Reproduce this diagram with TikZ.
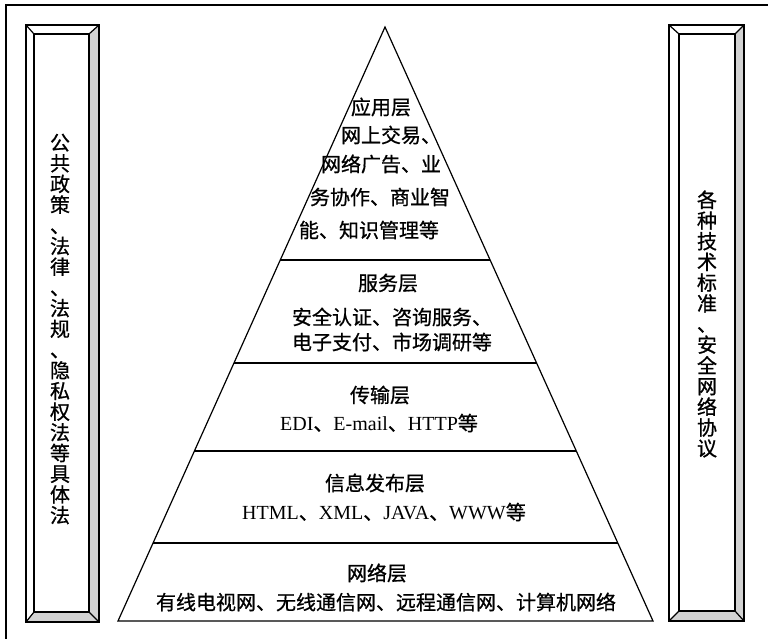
\documentclass[tikz,border=0pt]{standalone}
\usepackage{fontspec}
\setmainfont{Liberation Serif}
\newfontfamily\cjk[FakeBold=0.8]{Noto Sans CJK SC}
\usetikzlibrary{calc}
\newcommand{\zh}[1]{{\cjk #1}}
\begin{document}
\begin{tikzpicture}[x=1pt,y=-1pt, line width=1.2pt,
 zhtxt/.style={inner sep=0pt, font=\fontsize{20}{24}\selectfont\cjk},
 entxt/.style={inner sep=0pt, font=\fontsize{20}{24}\selectfont},
 vtxt/.style={inner sep=0pt, align=center, font=\fontsize{20}{20.7}\selectfont\cjk},
 bevel/.style={fill=gray!35, draw=none}]
\useasboundingbox (0,0) rectangle (768,638);
\draw (6,640) -- (6,5) -- (770,5);

% left pillar
\coordinate (LoTL) at (26,25);
\coordinate (LoTR) at (99,25);
\coordinate (LoBR) at (99,622);
\coordinate (LoBL) at (26,622);
\coordinate (LiTL) at (34,34);
\coordinate (LiTR) at (89,34);
\coordinate (LiBR) at (89,612);
\coordinate (LiBL) at (34,612);
\fill[bevel] (LoTR)--(LoBR)--(LiBR)--(LiTR)--cycle;
\fill[bevel] (LoBL)--(LoBR)--(LiBR)--(LiBL)--cycle;
\draw (LoTL) rectangle (LoBR);
\draw (LiTL) rectangle (LiBR);
\draw (LoTL)--(LiTL) (LoTR)--(LiTR) (LoBR)--(LiBR) (LoBL)--(LiBL);

% right pillar
\coordinate (RoTL) at (669,25);
\coordinate (RoTR) at (744,25);
\coordinate (RoBR) at (744,621);
\coordinate (RoBL) at (669,621);
\coordinate (RiTL) at (679,34);
\coordinate (RiTR) at (735,34);
\coordinate (RiBR) at (735,611);
\coordinate (RiBL) at (679,611);
\fill[bevel] (RoTR)--(RoBR)--(RiBR)--(RiTR)--cycle;
\fill[bevel] (RoBL)--(RoBR)--(RiBR)--(RiBL)--cycle;
\draw (RoTL) rectangle (RoBR);
\draw (RiTL) rectangle (RiBR);
\draw (RoTL)--(RiTL) (RoTR)--(RiTR) (RoBR)--(RiBR) (RoBL)--(RiBL);

% pillar texts
\node[vtxt] (lv) at (60,329) {公\\共\\政\\策\\、\\法\\律\\、\\法\\规\\、\\隐\\私\\权\\法\\等\\具\\体\\法};
\node[vtxt] (rv) at (707,324) {各\\种\\技\\术\\标\\准\\、\\安\\全\\网\\络\\协\\议};

% pyramid
\coordinate (A) at (385,27);
\coordinate (BL) at (118,621);
\coordinate (BR) at (653,621);
\draw (A)--(BL)--(BR)--cycle;
\coordinate (d1l) at ($(A)!0.3923!(BL)$);
\coordinate (d1r) at ($(A)!0.3923!(BR)$);
\coordinate (d2l) at ($(A)!0.5657!(BL)$);
\coordinate (d2r) at ($(A)!0.5657!(BR)$);
\coordinate (d3l) at ($(A)!0.7138!(BL)$);
\coordinate (d3r) at ($(A)!0.7138!(BR)$);
\coordinate (d4l) at ($(A)!0.8687!(BL)$);
\coordinate (d4r) at ($(A)!0.8687!(BR)$);
\draw (d1l)--(d1r) (d2l)--(d2r) (d3l)--(d3r) (d4l)--(d4r);

% application layer
\node[zhtxt] (app) at (381,107) {应用层};
\node[zhtxt] (app1) at (391,135) {网上交易、};
\node[zhtxt] (app2) at (381,164) {网络广告、业};
\node[zhtxt] (app3) at (380,197) {务协作、商业智};
\node[zhtxt] (app4) at (369,230) {能、知识管理等};

% service layer
\node[zhtxt] (srv) at (388,283) {服务层};
\node[zhtxt] (srv1) at (392,317) {安全认证、咨询服务、};
\node[zhtxt] (srv2) at (392,342) {电子支付、市场调研等};

% transport layer
\node[zhtxt] (trn) at (380,395) {传输层};
\node[entxt] (trn1) at (379,423) {EDI\zh{、}E-mail\zh{、}HTTP\zh{等}};

% information publishing layer
\node[zhtxt] (pub) at (375,483) {信息发布层};
\node[entxt] (pub1) at (384,512) {HTML\zh{、}XML\zh{、}JAVA\zh{、}WWW\zh{等}};

% network layer
\node[zhtxt] (net) at (377,573) {网络层};
\node[zhtxt] (net1) at (386,602) {有线电视网、无线通信网、远程通信网、计算机网络};
\end{tikzpicture}
\end{document}
